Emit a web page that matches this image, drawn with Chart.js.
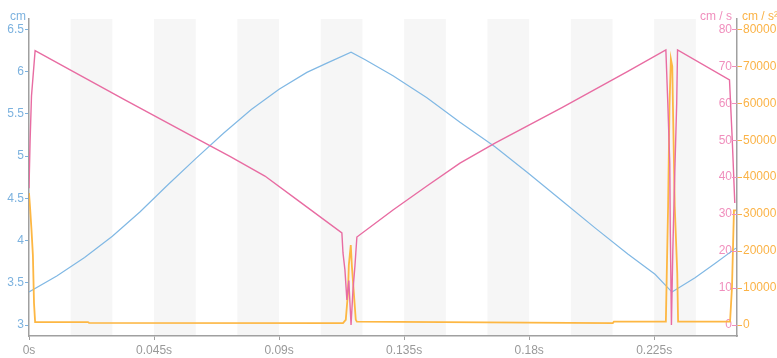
<!DOCTYPE html>
<html>
<head>
<meta charset="utf-8">
<script src="https://cdn.jsdelivr.net/npm/chart.js@4/dist/chart.umd.min.js"></script>
<style>
  body { margin: 0; background: #fff; }
  #wrap { width: 777px; height: 358px; position: relative; }
</style>
</head>
<body>
<div id="wrap"><canvas id="motionChart"></canvas></div>
<script>
// position (cm)
const posTime = [0, 0.01, 0.02, 0.03, 0.04, 0.05, 0.06, 0.07, 0.08, 0.09, 0.10, 0.1072, 0.1159,
  0.1210, 0.1310, 0.1432, 0.1551, 0.1677, 0.1796, 0.1918, 0.2037, 0.2155, 0.2253, 0.2314,
  0.2397, 0.2470, 0.2544];
const posValues = [3.39, 3.58, 3.80, 4.05, 4.34, 4.66, 4.97, 5.27, 5.55, 5.79, 5.99, 6.10, 6.23,
  6.14, 5.95, 5.69, 5.40, 5.11, 4.80, 4.47, 4.15, 3.84, 3.60, 3.39,
  3.56, 3.73, 3.91];

// speed (cm / s)
const velTime = [0, 0.0004, 0.0009, 0.0022, 0.0148, 0.0345, 0.0587, 0.0723, 0.0849, 0.0975, 0.1126,
  0.1130, 0.1137, 0.1144, 0.1151, 0.1159, 0.1166, 0.1173, 0.1180,
  0.1310, 0.1432, 0.1551, 0.1677, 0.1918, 0.2155, 0.2292,
  0.2299, 0.2306, 0.2308, 0.2312, 0.2317, 0.2324, 0.2331, 0.2334,
  0.2521, 0.2531, 0.2540];
const velValues = [37, 50, 62, 74.2, 69.0, 60.9, 51.1, 45.6, 40.3, 33.3, 24.9,
  19.5, 14.9, 6.8, 12, 0, 9.5, 16, 23.8,
  31.1, 37.6, 43.8, 49.2, 58.8, 68.6, 74.4,
  60, 43.8, 25, 0, 20, 41, 60, 74.4,
  66.3, 50, 33];

// acceleration (cm / s²)
const accTime = [0, 0.0004, 0.0009, 0.0014, 0.0018, 0.0022, 0.0212, 0.0216,
  0.1130, 0.1140, 0.1148, 0.1151, 0.1158, 0.1162, 0.1169, 0.1176, 0.1180,
  0.2101, 0.2105, 0.2292, 0.2295, 0.2300, 0.2305, 0.2310, 0.2315, 0.2318, 0.2324, 0.2333, 0.2336,
  0.2523, 0.2530, 0.2537, 0.2544];
const accValues = [35700, 31600, 25700, 18900, 5950, 800, 800, 600,
  500, 1400, 8700, 16200, 21600, 16000, 8700, 1400, 900,
  500, 900, 900, 13000, 32000, 59000, 72000, 70000, 57000, 32000, 14000, 900,
  900, 10300, 31000, 31000];

// tick labels
const posTicks = [3, 3.5, 4, 4.5, 5, 5.5, 6, 6.5];
const velTicks = [0, 10, 20, 30, 40, 50, 60, 70, 80];
const accTicks = [0, 10000, 20000, 30000, 40000, 50000, 60000, 70000, 80000];
const xStep = 0.045;
const bandStart = 0.015, bandWidth = 0.015, bandPeriod = 0.03;

const blue = '#80b8e4', pink = '#e86ca2', orange = '#fdb743';
const blueText = '#7cb2df', pinkText = '#f08fbd', orangeText = '#fbb347';

Chart.defaults.font.family = "'Liberation Sans', Arial, sans-serif";
Chart.defaults.font.size = 12;

function toPoints(ts, vs) {
  return ts.map((t, i) => ({ x: t, y: vs[i] }));
}

function fixedTicks(list) {
  return scale => { scale.ticks = list.map(v => ({ value: v })); };
}

// grey stripes behind the plot
const bands = {
  id: 'bands',
  beforeDraw(chart) {
    const { ctx, chartArea: a, scales: { x } } = chart;
    ctx.save();
    ctx.fillStyle = '#f6f6f6';
    for (let t = bandStart; t < x.max; t += bandPeriod) {
      const x1 = x.getPixelForValue(t);
      const x2 = Math.min(x.getPixelForValue(t + bandWidth), a.right);
      ctx.fillRect(x1, a.top, x2 - x1, a.bottom - a.top);
    }
    ctx.restore();
  }
};

// unit titles on top of the axes + pink tick marks
const axisTitles = {
  id: 'axisTitles',
  afterDraw(chart) {
    const { ctx, chartArea: a } = chart;
    ctx.save();
    ctx.font = "12px 'Liberation Sans', Arial, sans-serif";
    ctx.textBaseline = 'alphabetic';
    ctx.fillStyle = blueText;
    ctx.textAlign = 'left';
    ctx.fillText('cm', 10, 20);
    ctx.fillStyle = pinkText;
    ctx.textAlign = 'right';
    ctx.fillText('cm / s', a.right - 5, 20);
    ctx.fillStyle = orangeText;
    ctx.textAlign = 'left';
    ctx.fillText('cm / s²', a.right + 5, 20);

    const yV = chart.scales.yV;
    ctx.strokeStyle = pinkText;
    ctx.lineWidth = 1;
    yV.ticks.forEach(tk => {
      const y = Math.round(yV.getPixelForValue(tk.value)) + 0.5;
      ctx.beginPath();
      ctx.moveTo(a.right - 5, y);
      ctx.lineTo(a.right, y);
      ctx.stroke();
    });
    ctx.restore();
  }
};

const ctx = document.getElementById('motionChart').getContext('2d');
const motionChart = new Chart(ctx, {
  type: 'line',
  data: {
    datasets: [
      {
        label: 'speed',
        data: toPoints(velTime, velValues),
        yAxisID: 'yV',
        borderColor: pink,
        borderWidth: 1.4,
        order: 1
      },
      {
        label: 'acceleration',
        data: toPoints(accTime, accValues),
        yAxisID: 'yA',
        borderColor: orange,
        borderWidth: 1.8,
        order: 2
      },
      {
        label: 'position',
        data: toPoints(posTime, posValues),
        yAxisID: 'y',
        borderColor: blue,
        borderWidth: 1.2,
        order: 3
      }
    ]
  },
  options: {
    responsive: true,
    maintainAspectRatio: false,
    animation: false,
    events: [],
    elements: { point: { radius: 0 }, line: { tension: 0 } },
    layout: { padding: { top: 19, left: 0, right: 0, bottom: 0 } },
    plugins: { legend: { display: false }, tooltip: { enabled: false } },
    scales: {
      x: {
        type: 'linear',
        min: 0,
        max: 0.2548,
        afterFit: s => { s.height = 22; },
        border: { color: '#a0a0a0', width: 1.5 },
        grid: { drawOnChartArea: false, tickLength: 4, tickColor: '#a0a0a0' },
        ticks: {
          stepSize: xStep,
          includeBounds: false,
          padding: 3,
          color: '#999',
          maxRotation: 0,
          callback: v => v + 's'
        }
      },
      y: {
        position: 'left',
        min: 2.870,
        max: 6.622,
        afterBuildTicks: fixedTicks(posTicks),
        afterFit: s => { s.width = 29; },
        border: { color: '#a0a0a0', width: 1.5 },
        grid: { drawOnChartArea: false, tickLength: 4, tickColor: blueText },
        ticks: { padding: 1, color: blueText, callback: v => String(v) }
      },
      yV: {
        position: 'right',
        weight: 0,
        min: -2.976,
        max: 82.79,
        afterBuildTicks: fixedTicks(velTicks),
        afterFit: s => { s.width = 0; },
        border: { display: false },
        grid: { display: false, drawTicks: false },
        ticks: { mirror: true, padding: -5, color: pinkText, callback: v => String(v) }
      },
      yA: {
        position: 'right',
        weight: 1,
        min: -2976,
        max: 82790,
        afterBuildTicks: fixedTicks(accTicks),
        afterFit: s => { s.width = 40; },
        border: { color: '#a0a0a0', width: 1.5 },
        grid: { drawOnChartArea: false, tickLength: 5, tickColor: orangeText },
        ticks: { padding: 1, color: orangeText, callback: v => String(v) }
      }
    }
  },
  plugins: [bands, axisTitles]
});
</script>
</body>
</html>
